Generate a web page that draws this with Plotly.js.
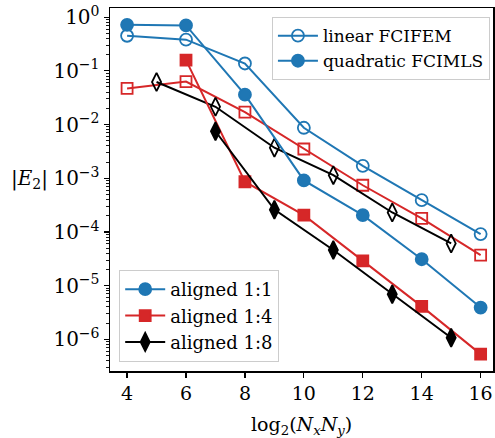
<!DOCTYPE html>
<html>
<head>
<meta charset="utf-8">
<script src="https://cdn.plot.ly/plotly-3.0.1.min.js"></script>
<style>html,body{margin:0;padding:0;background:#fff;overflow:hidden}#plot{width:495px;height:438px}</style>
</head>
<body>
<div id="plot"></div>
<script>
// Data
const xEven = [4, 6, 8, 10, 12, 14, 16];
const blueQuadY = [0.72, 0.70, 0.036, 0.00091, 0.000205, 3.1e-5, 3.9e-6];
const blueLinY = [0.45, 0.38, 0.137, 0.0087, 0.0017, 0.00039, 9.1e-5];
const redLinY = [0.047, 0.063, 0.017, 0.0035, 0.00074, 0.000178, 3.7e-5];
const xRedQuad = [6, 8, 10, 12, 14, 16];
const redQuadY = [0.158, 0.00086, 0.000205, 2.9e-5, 4.1e-6, 5.3e-7];
const xBlackLin = [5, 7, 9, 11, 13, 15];
const blackLinY = [0.062, 0.0214, 0.0037, 0.00114, 0.00023, 6.1e-5];
const xBlackQuad = [7, 9, 11, 13, 15];
const blackQuadY = [0.0075, 0.00026, 4.6e-5, 6.9e-6, 1.07e-6];
const xTicks = [4, 6, 8, 10, 12, 14, 16];
const yTickExp = [0, -1, -2, -3, -4, -5, -6];

const BLUE = '#1f77b4', RED = '#d62728', BLACK = '#000000';
const FONT = '"DejaVu Serif", "Liberation Serif", serif';
const LW = 2;

function tr(x, y, color, symbol, size, name, legend, show) {
  return {
    x: x, y: y, type: 'scatter', mode: 'lines+markers', name: name,
    legend: legend, showlegend: show,
    line: {color: color, width: LW},
    marker: {color: color, symbol: symbol, size: size, line: {color: color, width: 1.8}}
  };
}

const data = [
  tr(xEven, blueLinY, BLUE, 'circle-open', 12, 'blue lin', 'legend', false),
  tr(xEven, redLinY, RED, 'square-open', 11, 'red lin', 'legend', false),
  tr(xBlackLin, blackLinY, BLACK, 'diamond-tall-open', 13, 'black lin', 'legend', false),
  tr(xEven, blueQuadY, BLUE, 'circle', 12, 'aligned 1:1', 'legend2', true),
  tr(xRedQuad, redQuadY, RED, 'square', 11, 'aligned 1:4', 'legend2', true),
  tr(xBlackQuad, blackQuadY, BLACK, 'diamond-tall', 13, 'aligned 1:8', 'legend2', true),
  tr([null], [null], BLUE, 'circle-open', 12, 'linear FCIFEM', 'legend', true),
  tr([null], [null], BLUE, 'circle', 12, 'quadratic FCIMLS', 'legend', true)
];

const layout = {
  width: 495, height: 438,
  margin: {l: 110, r: 2, t: 8, b: 67},
  paper_bgcolor: '#fff', plot_bgcolor: '#fff',
  font: {family: FONT, size: 17, color: '#000'},
  xaxis: {
    range: [3.42, 16.42], showgrid: false, zeroline: false,
    showline: true, linecolor: '#000', linewidth: 1.5, mirror: true,
    ticks: 'outside', ticklen: 5, tickwidth: 1.2, tickcolor: '#000',
    tickvals: xTicks, ticktext: xTicks.map(String),
    tickfont: {family: FONT, size: 19}
  },
  yaxis: {
    type: 'log', range: [-6.59, 0.17], showgrid: false, zeroline: false,
    showline: true, linecolor: '#000', linewidth: 1.5, mirror: true,
    ticks: 'outside', ticklen: 5, tickwidth: 1.2, tickcolor: '#000',
    tickvals: yTickExp.map(e => Math.pow(10, e)),
    ticktext: yTickExp.map(e => '10<sup>' + (e < 0 ? '\u2212' + (-e) : e) + '</sup>'),
    tickfont: {family: FONT, size: 20},
    minor: {ticks: 'outside', ticklen: 3, tickwidth: 0.9, tickcolor: '#000', dtick: 'D1', showgrid: false}
  },
  legend: {
    x: 0.992, xanchor: 'right', y: 0.975, yanchor: 'top',
    bgcolor: 'rgba(255,255,255,0.8)', bordercolor: '#cccccc', borderwidth: 1,
    font: {family: FONT, size: 17}, itemwidth: 40, tracegroupgap: 0
  },
  legend2: {
    x: 0.024, xanchor: 'left', y: 0.025, yanchor: 'bottom',
    bgcolor: 'rgba(255,255,255,0.8)', bordercolor: '#cccccc', borderwidth: 1,
    font: {family: FONT, size: 18}, itemwidth: 40, tracegroupgap: 0
  },
  annotations: [
    {text: '|<i>E</i><sub>2</sub>|', xref: 'paper', yref: 'paper', x: -0.21, y: 0.53,
     xanchor: 'center', yanchor: 'middle', showarrow: false, font: {family: FONT, size: 20}},
    {text: 'log<sub>2</sub>(<i>N<sub>x</sub>N<sub>y</sub></i>)', xref: 'paper', yref: 'paper', x: 0.5, y: -0.15,
     xanchor: 'center', yanchor: 'middle', showarrow: false, font: {family: FONT, size: 19}}
  ]
};

Plotly.newPlot('plot', data, layout, {displayModeBar: false, staticPlot: true});
</script>
</body>
</html>
